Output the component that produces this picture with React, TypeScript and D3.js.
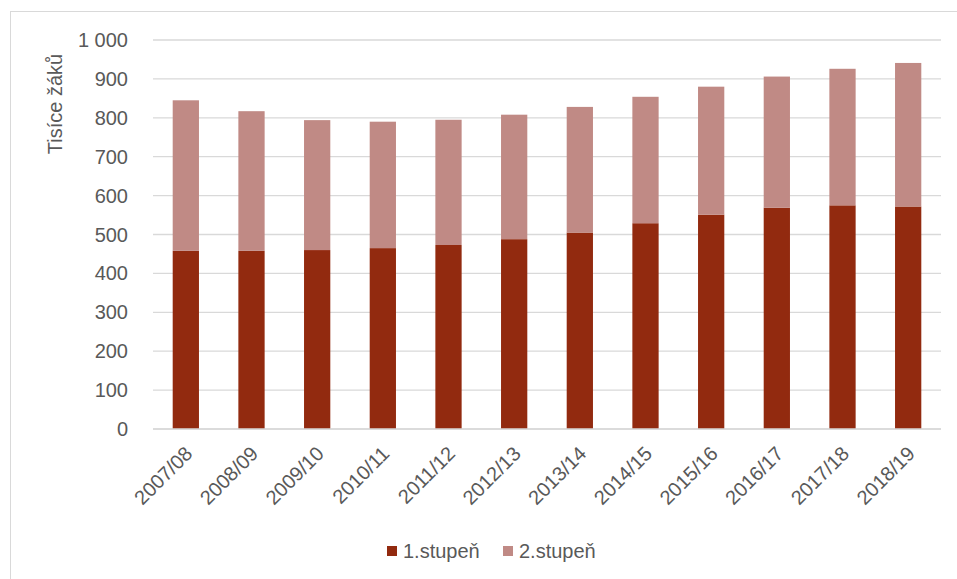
import React from "react";
import * as d3 from "d3";

const categories = ["2007/08","2008/09","2009/10","2010/11","2011/12","2012/13","2013/14","2014/15","2015/16","2016/17","2017/18","2018/19"];
const stupen1 = [458, 458, 460, 465, 473, 488, 505, 529, 551, 569, 575, 572];
const total = [845, 817, 794, 790, 795, 808, 828, 854, 880, 906, 926, 941];
const stupen2 = total.map((t, i) => t - stupen1[i]);
const yTicks = [0, 100, 200, 300, 400, 500, 600, 700, 800, 900, 1000];
const seriesNames = ["1.stupeň", "2.stupeň"];
const colors = ["#922A0F", "#C08A85"];

const W = 957, H = 579;
const left = 153, right = 941, top = 40, bottom = 429;
const font = "'Liberation Sans', Arial, sans-serif";
const textColor = "#595959";
const fs = 20;

export default function App() {
  const x = d3.scaleBand<string>().domain(categories).range([left, right]).paddingInner(0.6).paddingOuter(0.3);
  const y = d3.scaleLinear().domain([0, 1000]).range([bottom, top]);
  const fmt = (v: number) => (v >= 1000 ? d3.format(",")(v).replace(",", " ") : String(v));
  const stack = categories.map((c, i) => ({ c, a: stupen1[i], b: stupen2[i] }));
  return (
    <svg width={W} height={H} style={{ position: "absolute", left: 0, top: 0, display: "block" }}>
      <rect x={0} y={0} width={W} height={H} fill="#fff" />
      <rect x={10.5} y={11.5} width={1200} height={1200} fill="none" stroke="#d9d9d9" strokeWidth={1} />
      {yTicks.map((t) => (
        <g key={t}>
          <line x1={left} x2={right} y1={y(t)} y2={y(t)} stroke="#d9d9d9" strokeWidth={1.3} />
          <text x={128} y={y(t)} dy="0.35em" textAnchor="end" fontFamily={font} fontSize={fs} fill={textColor}>{fmt(t)}</text>
        </g>
      ))}
      {stack.map((d) => (
        <g key={d.c}>
          <rect x={x(d.c)} width={x.bandwidth()} y={y(d.a)} height={y(0) - y(d.a)} fill={colors[0]} />
          <rect x={x(d.c)} width={x.bandwidth()} y={y(d.a + d.b)} height={y(d.a) - y(d.a + d.b)} fill={colors[1]} />
        </g>
      ))}
      <line x1={left} x2={right} y1={bottom} y2={bottom} stroke="#d9d9d9" strokeWidth={1.3} />
      {categories.map((c) => {
        const cx = (x(c) as number) + x.bandwidth() / 2 - 2;
        const cy = 445;
        return (
          <text key={c} transform={`translate(${cx},${cy}) rotate(-45)`} textAnchor="end" dy="0.7em" fontFamily={font} fontSize={fs} fill={textColor}>{c}</text>
        );
      })}
      <text transform={`translate(62,104) rotate(-90)`} textAnchor="middle" fontFamily={font} fontSize={fs} fill={textColor}>Tisíce žáků</text>
      {seriesNames.map((n, i) => {
        const lx = i === 0 ? 387 : 503;
        return (
          <g key={n}>
            <rect x={lx} y={546} width={10} height={10} fill={colors[i]} />
            <text x={lx + 16} y={551} dy="0.35em" fontFamily={font} fontSize={fs} fill={textColor}>{n}</text>
          </g>
        );
      })}
    </svg>
  );
}
